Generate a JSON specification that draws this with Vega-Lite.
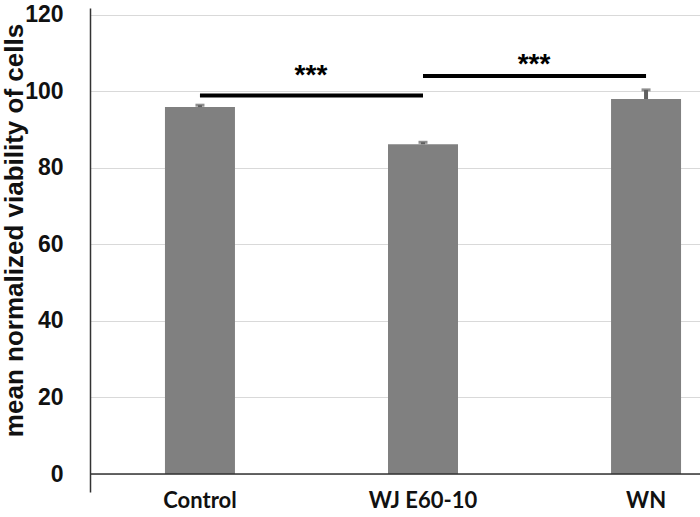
{
  "$schema": "https://vega.github.io/schema/vega-lite/v6.json",
  "autosize": {"type": "none"},
  "padding": {"left": 90, "top": 8, "right": 0, "bottom": 25},
  "width": 610,
  "height": 484,
  "background": "white",
  "config": {"view": {"stroke": null}, "font": "Liberation Sans"},
  "datasets": {
    "bars": [
      {"group": "Control", "mean": 95.9, "err": 0.5},
      {"group": "WJ E60-10", "mean": 86.2, "err": 0.5},
      {"group": "WN", "mean": 98.0, "err": 2.4}
    ],
    "sig": [
      {"from": "Control", "to": "WJ E60-10", "level": 98.9, "star": 104.0, "label": "***"},
      {"from": "WJ E60-10", "to": "WN", "level": 104.0, "star": 106.8, "label": "***"}
    ],
    "zero": [{"v": 0}]
  },
  "layer": [
    {
      "data": {"name": "bars"},
      "mark": {"type": "bar", "color": "#808080", "size": 70},
      "encoding": {
        "x": {
          "field": "group", "type": "nominal", "sort": null,
          "scale": {"range": [0, 666], "paddingInner": 0.686, "paddingOuter": 0.336},
          "axis": {
            "title": null, "domain": false, "ticks": false, "labelAngle": 0,
            "labelFont": "Lato", "labelFontWeight": "bold", "labelFontSize": 22,
            "labelColor": "#111111", "labelPadding": -2
          }
        },
        "y": {
          "field": "mean", "type": "quantitative",
          "scale": {"domain": [-4.7, 121.8], "nice": false, "zero": false},
          "axis": {
            "values": [0, 20, 40, 60, 80, 100, 120],
            "title": "mean normalized viability of cells",
            "titleFontSize": 26, "titleFontWeight": "bold", "titleColor": "#111111",
            "titleX": -68, "titleY": 222, "titleAngle": -90,
            "titleAlign": "center", "titleBaseline": "alphabetic",
            "labelFontSize": 23, "labelFontWeight": "bold", "labelColor": "#111111",
            "labelPadding": 27, "ticks": false,
            "grid": true, "gridColor": "#d9d9d9", "gridWidth": 1,
            "domainColor": "#333333", "domainWidth": 1.5
          }
        }
      }
    },
    {
      "data": {"name": "zero"},
      "mark": {"type": "rule", "color": "#333333", "strokeWidth": 1.5},
      "encoding": {"y": {"field": "v", "type": "quantitative"}}
    },
    {
      "data": {"name": "bars"},
      "transform": [{"calculate": "datum.mean + datum.err", "as": "upper"}],
      "mark": {"type": "rule", "color": "#5f5f5f", "strokeWidth": 4},
      "encoding": {
        "x": {"field": "group", "type": "nominal", "sort": null},
        "y": {"field": "mean", "type": "quantitative"},
        "y2": {"field": "upper"}
      }
    },
    {
      "data": {"name": "bars"},
      "transform": [{"calculate": "datum.mean + datum.err", "as": "upper"}],
      "mark": {"type": "tick", "color": "#5f5f5f", "size": 9, "thickness": 3},
      "encoding": {
        "x": {"field": "group", "type": "nominal", "sort": null},
        "y": {"field": "upper", "type": "quantitative"}
      }
    },
    {
      "data": {"name": "sig"},
      "mark": {"type": "rule", "color": "#000000", "strokeWidth": 4},
      "encoding": {
        "x": {"field": "from", "type": "nominal", "sort": null},
        "x2": {"field": "to"},
        "y": {"field": "level", "type": "quantitative"}
      }
    },
    {
      "data": {"name": "sig"},
      "mark": {"type": "text", "dx": 111, "fontSize": 28, "fontWeight": "bold", "color": "#000000", "baseline": "middle"},
      "encoding": {
        "x": {"field": "from", "type": "nominal", "sort": null},
        "y": {"field": "star", "type": "quantitative"},
        "text": {"field": "label"}
      }
    }
  ]
}
